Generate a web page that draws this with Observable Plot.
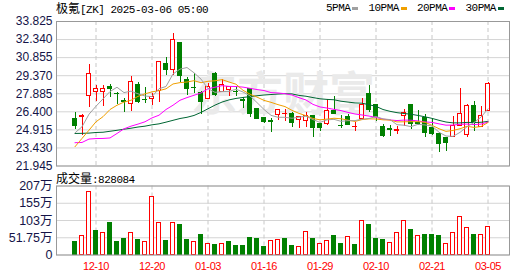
<!DOCTYPE html>
<html><head><meta charset="utf-8">
<script src="https://cdn.jsdelivr.net/npm/d3@7"></script>
<script src="https://cdn.jsdelivr.net/npm/@observablehq/plot@0.6"></script>
<style>
body{margin:0;background:#fff;}
#wrap{position:relative;width:530px;height:276px;overflow:hidden;background:#fff;}
.abs{position:absolute;white-space:nowrap;}
.cjk{font-family:"Noto Sans CJK SC",sans-serif;font-size:12px;}
.mono{font-family:"Liberation Mono",monospace;font-size:11px;letter-spacing:-0.5px;}
svg text{font-family:"Liberation Sans","Noto Sans CJK SC",sans-serif;}
</style></head><body><div id="wrap"></div>
<script>
// ---------- data ----------
const dates = ["2024-12-05","2024-12-06","2024-12-09","2024-12-10","2024-12-11","2024-12-12","2024-12-13","2024-12-16","2024-12-17","2024-12-18","2024-12-19","2024-12-20","2024-12-23","2024-12-24","2024-12-26","2024-12-27","2024-12-30","2024-12-31","2025-01-02","2025-01-03","2025-01-06","2025-01-07","2025-01-08","2025-01-10","2025-01-13","2025-01-14","2025-01-15","2025-01-16","2025-01-17","2025-01-21","2025-01-22","2025-01-23","2025-01-24","2025-01-27","2025-01-28","2025-01-29","2025-01-30","2025-01-31","2025-02-03","2025-02-04","2025-02-05","2025-02-06","2025-02-07","2025-02-10","2025-02-11","2025-02-12","2025-02-13","2025-02-14","2025-02-18","2025-02-19","2025-02-20","2025-02-21","2025-02-24","2025-02-25","2025-02-26","2025-02-27","2025-02-28","2025-03-03","2025-03-04","2025-03-05"];
const opens = [25.80,25.98,27.70,28.06,28.06,28.43,27.88,27.29,27.08,28.57,27.40,27.47,28.07,30.30,29.86,32.06,29.02,28.38,27.94,27.47,29.48,28.03,28.17,28.06,27.37,28.25,26.61,25.90,25.63,26.17,26.18,26.18,25.71,25.63,26.05,25.42,25.40,26.50,25.25,26.00,25.15,25.85,27.84,26.99,25.17,24.95,24.84,26.04,26.94,25.52,25.93,25.08,24.54,24.21,24.35,25.22,24.46,26.86,25.17,26.48];
const highs = [26.38,26.20,30.30,28.58,28.58,28.66,27.95,27.49,29.28,28.77,28.40,27.90,30.48,30.85,32.87,32.12,29.25,29.54,28.10,28.70,29.67,29.05,28.44,28.44,27.57,28.27,26.63,25.92,25.85,26.55,26.59,26.34,26.04,26.38,26.08,25.44,27.40,27.62,26.07,26.20,25.50,27.49,28.58,27.00,25.36,25.30,25.17,26.59,27.02,26.53,26.18,25.85,24.56,24.23,26.04,28.31,27.02,27.27,26.86,28.85];
const lows = [24.92,24.42,26.74,27.22,26.86,27.54,27.00,26.34,26.45,27.10,27.12,26.90,27.13,29.40,29.40,28.85,27.76,27.90,26.18,27.40,27.70,27.95,27.62,27.63,26.67,25.90,25.77,25.44,24.70,25.71,25.58,25.09,25.03,25.10,24.27,24.76,25.30,26.16,25.00,25.30,24.76,25.71,26.31,25.58,24.27,24.40,24.57,25.17,24.95,25.30,24.27,24.49,23.04,23.12,24.35,25.17,24.27,24.76,25.11,26.48];
const closes = [25.23,26.04,29.48,28.25,28.31,28.25,27.83,27.24,28.88,27.18,27.36,27.61,30.46,29.81,32.32,29.35,28.26,28.32,27.19,28.44,27.78,28.58,28.42,28.02,27.33,26.20,25.85,25.56,25.60,26.53,26.22,25.44,25.99,26.04,25.09,25.11,26.45,26.23,25.21,25.33,25.19,26.99,26.53,25.99,24.40,24.88,24.90,26.34,25.36,25.36,24.62,24.54,23.72,23.80,25.22,26.26,26.86,25.44,26.04,28.66];
const prevClose = 25.40;
const volumes = [38.5,57.5,190.5,73.5,67.5,97.5,38.5,49.5,67.5,46.5,40.5,175.5,97.5,43.5,97.5,91.5,46.5,40.5,61.5,34.5,31.5,34.5,40.5,28.5,28.5,52.5,49.5,23.5,43.5,45.5,49.5,28.5,24.5,69.5,49.5,34.5,42.5,58.5,34.5,54.5,31.5,102.5,91.5,49.5,46.5,36.5,66.5,102.5,76.5,57.5,61.5,61.5,58.5,33.5,66.5,114.5,81.5,61.5,61.5,82.8];
const ma5 = [24.67,25.17,26.20,26.86,27.46,28.07,28.42,27.98,28.10,27.88,27.70,27.65,28.30,28.48,29.51,29.91,30.04,29.61,29.09,28.31,28.00,28.06,28.08,28.25,28.03,27.71,27.16,26.59,26.11,25.95,25.95,25.87,25.96,26.04,25.76,25.53,25.74,25.78,25.62,25.67,25.68,25.79,25.85,26.01,25.82,25.76,25.34,25.30,25.18,25.37,25.32,25.24,24.72,24.41,24.38,24.71,25.17,25.52,25.96,26.65];
const ma10 = [23.53,24.21,24.89,25.58,26.00,26.59,26.94,27.20,27.35,27.67,27.88,28.04,28.14,28.29,28.69,28.80,28.85,28.96,28.79,28.91,28.95,29.05,28.85,28.67,28.17,27.85,27.61,27.34,27.18,26.99,26.83,26.52,26.27,26.08,25.85,25.74,25.80,25.87,25.83,25.71,25.61,25.76,25.82,25.81,25.74,25.72,25.57,25.58,25.59,25.59,25.54,25.29,25.01,24.79,24.87,25.01,25.21,25.12,25.19,25.52];
const ma20 = [23.86,23.88,24.16,24.20,24.21,24.25,24.62,25.00,25.22,25.39,25.58,25.90,26.12,26.59,26.94,27.35,27.57,27.76,27.95,28.29,28.42,28.55,28.49,28.48,28.43,28.33,28.23,28.15,27.98,27.95,27.89,27.78,27.56,27.37,27.01,26.80,26.71,26.60,26.50,26.35,26.22,26.14,26.05,25.94,25.80,25.73,25.68,25.72,25.71,25.65,25.57,25.53,25.41,25.30,25.31,25.37,25.39,25.35,25.39,25.56];
const ma30 = [24.62,24.63,24.65,24.70,24.72,24.80,24.88,24.97,25.05,25.15,25.22,25.33,25.41,25.55,25.70,25.85,25.95,26.10,26.35,26.65,26.95,27.20,27.38,27.50,27.58,27.65,27.72,27.78,27.82,27.86,27.89,27.87,27.75,27.68,27.57,27.47,27.42,27.39,27.27,27.20,27.13,27.11,26.98,26.85,26.59,26.44,26.33,26.26,26.20,26.10,25.99,25.86,25.70,25.56,25.49,25.49,25.53,25.52,25.54,25.61];
const yTicks = [21.945,23.430,24.915,26.400,27.885,29.370,30.855,32.340,33.825];
const volTicks = [0,51.75,103.5,155.25,207];
const volTickLabels = ["0","51.75万","103万","155万","207万"];
const xTicks = ["2024-12-10","2024-12-20","2025-01-03","2025-01-16","2025-01-29","2025-02-10","2025-02-21","2025-03-05"];
const titleName = "极氪";
const titleRest = "[ZK] 2025-03-06 05:00";
const volName = "成交量";
const volRest = ":828084";
const maNames = ["5PMA","10PMA","20PMA","30PMA"];
const watermark = "东方财富";

// ---------- styles ----------
const RED = "#ff0000", GREEN = "#008000";
const maColors = ["#a0a0a0","#f0a000","#ff00ff","#006633"];

const rows = dates.map((d,i)=>({date:d,o:opens[i],h:highs[i],l:lows[i],c:closes[i],v:volumes[i],
  m5:ma5[i],m10:ma10[i],m20:ma20[i],m30:ma30[i]}));
rows.forEach((r,i)=>{ r.up = r.c >= r.o; r.vup = r.c >= (i ? closes[i-1] : prevClose); });

const xBand = {type:"band", domain:dates, range:[56.5,505], padding:0};
const inset = 1.75;

const main = Plot.plot({
  width:530, height:170, marginTop:21, marginBottom:4.5, marginLeft:56, marginRight:21,
  style:{background:"transparent", overflow:"visible"},
  x:{...xBand, axis:null},
  y:{domain:[21.945,33.825], ticks:yTicks, tickFormat:d=>d.toFixed(3), tickSize:0, tickPadding:4, label:null},
  color:{type:"identity"},
  marks:[
    Plot.ruleY(yTicks,{stroke:"#d4d4d4"}),
    Plot.ruleX(xTicks,{x:d=>d, stroke:"#c8c8c8", strokeDasharray:"4,3"}),
    Plot.text([watermark],{frameAnchor:"middle", text:d=>d, fontSize:46, fontWeight:"bold", fill:"#eaeaea", dx:0, dy:2}),
    Plot.ruleX(rows,{x:"date", y1:"l", y2:"h", stroke:d=>d.up?RED:GREEN, shapeRendering:"crispEdges"}),
    Plot.barY(rows,{x:"date", y1:"o", y2:"c", fill:d=>d.up?"#ffffff":GREEN, stroke:d=>d.up?RED:GREEN, insetLeft:inset, insetRight:inset, shapeRendering:"crispEdges"}),
    Plot.line(rows,{x:"date", y:"m30", stroke:maColors[3], strokeWidth:1}),
    Plot.line(rows,{x:"date", y:"m20", stroke:maColors[2], strokeWidth:1}),
    Plot.line(rows,{x:"date", y:"m10", stroke:maColors[1], strokeWidth:1}),
    Plot.line(rows,{x:"date", y:"m5", stroke:maColors[0], strokeWidth:1}),
    Plot.frame({stroke:"#999999"})
  ]
});

const vol = Plot.plot({
  width:530, height:104, marginTop:13.5, marginBottom:21.5, marginLeft:56, marginRight:21,
  style:{background:"transparent", overflow:"visible"},
  x:{...xBand, ticks:xTicks, tickFormat:d=>d.slice(5), tickSize:0, tickPadding:7, label:null},
  y:{domain:[0,207], ticks:volTicks, tickFormat:d=>volTickLabels[volTicks.indexOf(d)], tickSize:0, tickPadding:4, label:null},
  color:{type:"identity"},
  marks:[
    Plot.ruleY(volTicks,{stroke:"#d4d4d4"}),
    Plot.ruleX(xTicks,{x:d=>d, stroke:"#c8c8c8", strokeDasharray:"4,3"}),
    Plot.barY(rows,{x:"date", y:"v", fill:d=>d.vup?"#ffffff":GREEN, stroke:d=>d.vup?RED:GREEN, insetLeft:inset, insetRight:inset, shapeRendering:"crispEdges"}),
    Plot.frame({stroke:"#999999"})
  ]
});

const wrap = document.getElementById("wrap");
main.classList.add("abs"); main.style.left="0px"; main.style.top="0px";
vol.classList.add("abs"); vol.style.left="0px"; vol.style.top="172px";
wrap.appendChild(main); wrap.appendChild(vol);

// axis text styling
d3.select(main).selectAll('g[aria-label="y-axis tick label"], g[aria-label="y-axis"]')
  .attr("fill","#141448").style("font-size","12px");
d3.select(vol).selectAll('g[aria-label="y-axis tick label"], g[aria-label="y-axis"]')
  .attr("fill","#141448").style("font-size","12.5px");
d3.select(vol).selectAll('g[aria-label="x-axis tick label"], g[aria-label="x-axis"]')
  .attr("fill",RED).style("font-size","11px").style("font-family","'Liberation Mono',monospace").style("letter-spacing","-0.4px");
d3.select(vol).selectAll('g[aria-label="x-axis"] text').attr("fill",RED);

// title
function addText(parts, left, top){
  const div = document.createElement("div");
  div.className="abs"; div.style.left=left+"px"; div.style.top=top+"px"; div.style.lineHeight="16px";
  parts.forEach(([t,cls])=>{const s=document.createElement("span"); s.className=cls; s.textContent=t; div.appendChild(s);});
  wrap.appendChild(div);
}
addText([[titleName,"cjk"],[titleRest,"mono"]],56,0);
addText([[volName,"cjk"],[volRest,"mono"]],56,170);

// legend
const legend = document.createElement("div");
legend.className="abs"; legend.style.left="326px"; legend.style.top="0px"; legend.style.display="flex"; legend.style.alignItems="center"; legend.style.lineHeight="16px";
maNames.forEach((n,i)=>{
  const t=document.createElement("span"); t.className="mono"; t.textContent=n; legend.appendChild(t);
  const sw=document.createElement("span"); sw.style.cssText=`display:inline-block;width:6px;height:3px;background:${maColors[i]};margin:1px ${i<3?10:0}px 0 2px;`;
  legend.appendChild(sw);
});
wrap.appendChild(legend);
</script></body></html>
